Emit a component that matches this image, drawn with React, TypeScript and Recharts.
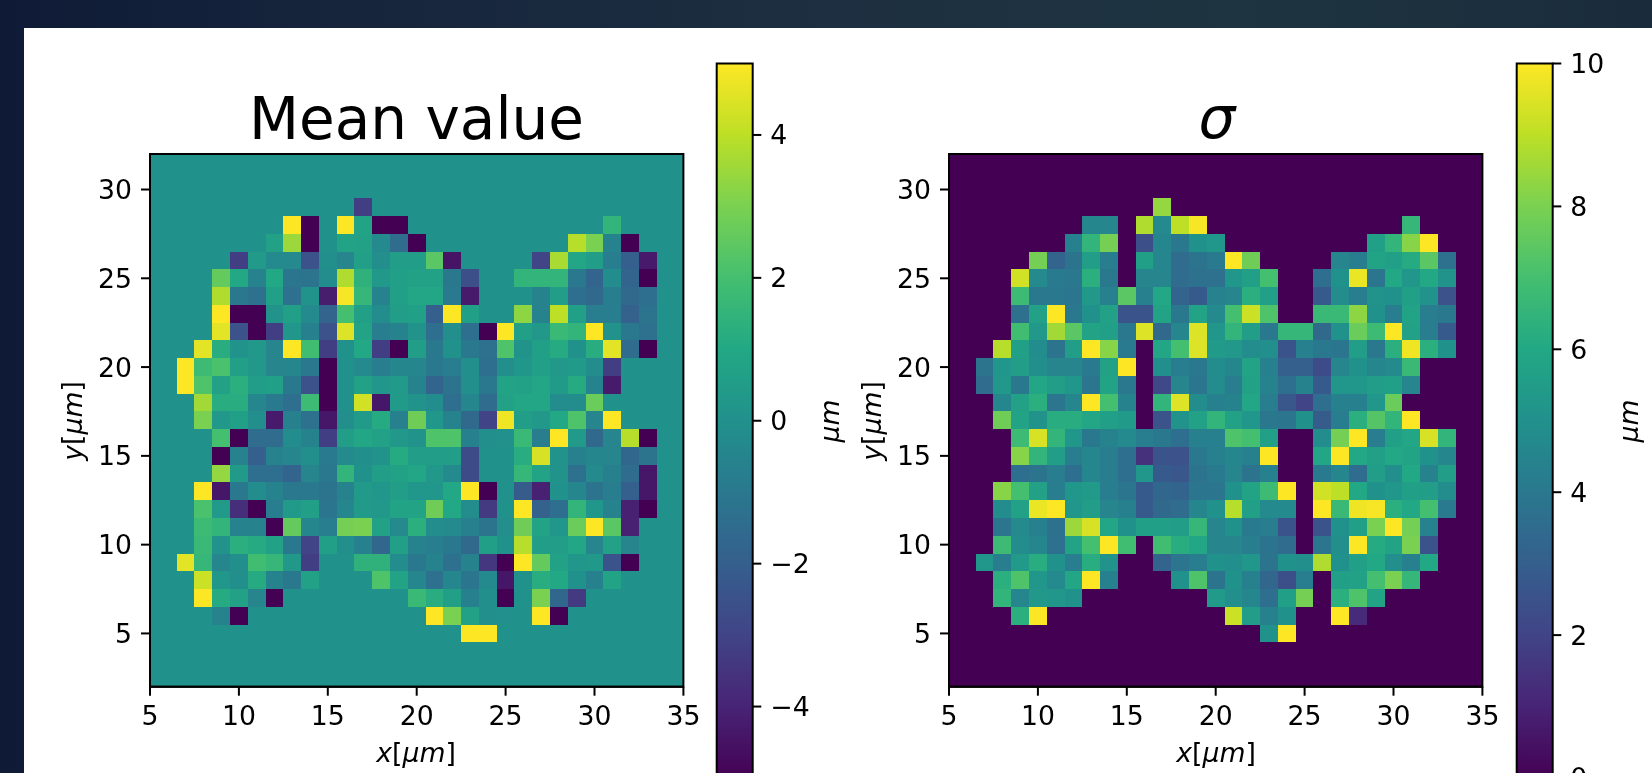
import React from 'react';
import { ScatterChart, Scatter, XAxis, YAxis, CartesianGrid, ReferenceArea, BarChart, Bar } from 'recharts';

type Seg = [number, number, number[]];

const xTicks = [5, 10, 15, 20, 25, 30, 35];
const yTicks = [5, 10, 15, 20, 25, 30];
const meanBarTicks = [-4, -2, 0, 2, 4];
const sigmaBarTicks = [0, 2, 4, 6, 8, 10];
const viridis = ['#440154', '#482475', '#414487', '#355f8d', '#2a788e', '#21918c', '#22a884', '#44bf70', '#7ad151', '#bddf26', '#fde725'];

// each entry: [y, first x, values from that x onward]
const meanRows: Seg[] = [
  [29, 17, [-3.2]],
  [28, 13, [5, -5, 0, 5, 0.8, -5, -5]], [28, 31, [1.5]],
  [27, 12, [0.7, 3.5, -5, 0, 0.8, 0.7, -0.3, -1.5, -5]], [27, 29, [3.9, 3, -0.6, -5]],
  [26, 10, [-3.2, 0.4, -0.3, -0.3, -2.5, -0.1, -0.5, 0.6, -0.1, 0.5, 0.5, 2.4, -4.5]], [26, 27, [-3, 3.7, 0.9, 0.5, -0.8, -2, -4.3]],
  [25, 9, [2.6, 1, -0.6, 1, -1.1, -1.2, -0.2, 3.8, 1.4, 0.3, 0.6, 0.7, 0.7, -1, -2.6]], [25, 26, [1.5, 1.5, 1.5, -1, -1.8, -0.2, -1.8, -5]],
  [24, 9, [3.8, -1, -1.3, 0.6, -1.3, 0.1, -4.2, 4.9, 1.6, -0.6, 0.6, 0.9, 0.9, -0.9, -4.3]], [24, 26, [0, -0.6, 0.5, -1.4, -1.6, -0.8, -1.6, -1.4]],
  [23, 9, [5, -5, -5, 0.1, 0.6, -0.3, -1.8, 2, 0.6, -0.2, 0.5, 0.6, -2, 5, 0.6]], [23, 26, [3.3, -0.6, 4, 0.6, -0.8, -0.8, -1.9, -1.2]],
  [22, 9, [4.6, -2.5, -5, -3.2, 0.2, -0.7, -2.5, 4.5, 0.8, -0.8, -0.6, 0.1, -1.4, -0.1, -1.4, -5, 5, 0.6, 0.3, 1.7, 1.5, 5, 0.1, -1, -1.3]],
  [21, 8, [4.6, 1.2, 0.1, 0.3, -0.5, 5, 1.9, -3.2, 0, 1, -3.2, -5, 0.5, -1, 0, -1, -1.3, 2.2, 0.1, 0.6, 1.1, 0, 1.2, 4.6, -1.5, -5]],
  [20, 7, [5, 1.8, 2.1, 0.6, 0.3, -0.5, -0.4, -1, -5, 0, -0.3, -0.8, -0.4, -0.4, -1, -0.8, -0.1, -1.4, -0.1, 0.2, 0.6, 0.3, 0.4, -0.2, -3.2]],
  [19, 7, [5, 2.2, 0.7, 1.3, 0.5, 0.6, -1, -2.5, -5, 0, 0.7, 0.2, 0.4, -0.6, -1.8, -1.2, -0.1, -1, 0.8, 0.7, 0.9, 0.4, 1.1, -0.6, -4.3]],
  [18, 8, [3.6, 1.2, 1.2, -0.4, -0.9, -1.4, 1.8, -5, 0, 4.3, -4.4, 0.4, 0.1, -0.2, -1.4, -0.4, -1.5, 0.7, 0.9, 0.9, -0.2, -0.2, 2.7]],
  [17, 8, [3, 0.3, 0.6, -0.1, -4.3, -0.7, -1.3, -4.4, -0.1, 0.4, 1.1, -0.7, 2.8, 0.2, -0.6, -1.6, -3, 4.8, 0.5, 0.3, 1, 2.2, -0.5, 5]],
  [16, 9, [2, -5, -1.5, -1.5, -0.2, -0.6, -3.2, 0.5, 0.9, 0.7, 0.3, 0.1, 2.2, 2.2, -0.7, -0.1, 0, 1.7, -0.8, 5, 0.4, -1.6, -0.5, 3.9, -5]],
  [15, 9, [-5, -0.6, -2, -0.6, -0.4, -0.1, -0.9, -0.3, -0.1, 0.1, 1.1, 0.5, 0.5, 0.5, -2.7, 0, 0, 1.2, 4.4, 0.1, -0.7, -0.4, -0.5, -1.7, -1.2]],
  [14, 9, [3.4, 0.4, -1.4, -1.4, -1.8, -0.5, -1, 1.5, 0, 0.5, 0.7, 0.9, 0.3, -0.3, -2.7, 0, 0, 1.6, 0.8, 0.1, -1.3, -0.3, -0.7, -1.5, -4.4]],
  [13, 8, [5, -4.4, -1, -0.2, -0.6, -1, -1, -1.2, -0.6, 0.4, 0.2, 0.5, 0.2, 0.2, 1, 5, -5, 0, -2.1, -4.1, 0, -0.4, -1.2, -0.8, -2, -4.4]],
  [12, 8, [2.1, 0.4, -3.7, -5, -0.8, 0.4, 0.6, -1.1, -0.4, 0.4, 0.3, 0.8, 0.8, 2.8, 1, -0.2, -3.3, 0, 5, -1.9, -1.4, 1.5, 0.2, -0.6, -4.1, -5]],
  [11, 8, [1.8, 1.5, -0.6, -0.6, -5, 2.6, -0.4, -0.8, 2.9, 3, 0.7, -0.3, 1.3, -0.2, -0.3, -0.7, -1.2, -0.1, 2.8, 0.8, 0.2, 2.7, 5, 2.4, -4.1]],
  [10, 8, [1.7, 0.1, 1.3, 1.1, 0.7, -1, -3, 0.6, -0.1, -0.7, -1.7, 0.6, -0.6, -0.8, -1, -1.6, 0.6, 0, 3.9, 0.5, 0.5, 0.9, -0.5, 0.7, -0.5]],
  [9, 7, [4.6, 1.6, -0.4, -0.1, 1.9, 1.6, 0.3, -3.2, 0, 0, 1.4, 1.4, -0.2, -1, -0.6, -1.3, -0.6, -3.4, -5, 5, 2.6, 0.7, 0.2, 0.3, -2.4, -5]],
  [8, 8, [4.2, 0.2, -0.1, 1.1, -0.6, -1, 0.7, 0, 0, 0, 2.2, 0.8, -0.4, -1.3, -0.4, -1.1, -0.3, -4.4, 0, 1.2, 1, 0, -0.7, 0.8]],
  [7, 8, [5, 1.1, 0.7, -0.5, -5]], [7, 20, [1.7, 1.2, 0.6, -0.7, -0.1, -5, 0, 3, -1.7, -3.3]],
  [6, 9, [-0.6, -5]], [6, 21, [5, 3, 0.7, -0.1]], [6, 27, [5, -5]],
  [5, 23, [5, 5]],
];

const sigmaRows: Seg[] = [
  [29, 17, [8.4]],
  [28, 13, [4.6, 4.5]], [28, 16, [8.8, 4.7, 9, 9.9]], [28, 31, [6.6]],
  [27, 12, [4.3, 6.5, 7.9]], [27, 16, [2.4, 4.6, 4, 5, 5.2]], [27, 29, [5.6, 6.5, 8.2, 10]],
  [26, 10, [7.9, 3.2, 3.8, 5.5, 4.2]], [26, 16, [5.6, 4.6, 3.5, 3.8, 4.1, 10, 7.8]], [26, 27, [4.5, 4.2, 5.8, 5.6, 6.1, 7.4, 3.7]],
  [25, 9, [9.3, 4.7, 4.1, 4, 6.3, 4]], [25, 16, [4.5, 4.5, 3.5, 3.7, 3.7, 5.2, 5.6, 7]], [25, 26, [3.6, 5, 9.7, 3.9, 6, 5.2, 6, 5.1]],
  [24, 9, [6.8, 4, 4, 3.9, 5.3, 4.3, 7.4, 4.3, 6, 3.2, 2.8, 4.4, 4.5, 6.3, 5.6]], [24, 26, [2.8, 4.8, 4.2, 5.1, 5, 5.6, 5.1, 2.5]],
  [23, 9, [3.7, 5.7, 10, 4, 5, 5.7, 2.6, 2.6, 5.8, 4, 5.8, 4.7, 7, 9.2, 7.2]], [23, 26, [6.7, 6.7, 8.3, 5, 4.2, 5.8, 4.2, 4]],
  [22, 9, [6.9, 5.3, 8.6, 7.4, 5.8, 5.6, 4, 9.5, 3.4, 4.6, 9.5, 5.2, 6.5, 5.5, 4, 6.6, 6.6, 3.4, 5, 7.7, 6.8, 10, 5.7, 4.2, 2.8]],
  [21, 8, [8.9, 5.6, 4.8, 3.8, 5.5, 10, 8.2, 4.1]], [21, 17, [5.9, 7, 9.5, 5.4, 5.3, 4.8, 4.9, 2.6, 4.3, 4, 3.9, 5.5, 4, 6.3, 9.8, 6.3, 5]],
  [20, 7, [3.8, 5.2, 5.5, 4.9, 4.5, 4.5, 4.1, 5.7, 10]], [20, 17, [4.9, 4.2, 4, 4.8, 4.6, 5.8, 4.3, 3, 3, 2.3, 4.5, 5, 4.6, 4.7, 6.7]],
  [19, 7, [3.5, 5.3, 4, 5.9, 5.5, 5.2, 3.9, 5.8, 4]], [19, 17, [2.2, 4.5, 3.9, 4.8, 4.2, 5.7, 4.4, 3.6, 4.4, 2.8, 5.2, 5.2, 5.5, 5.6, 4.5]],
  [18, 8, [4.6, 5.7, 6.3, 3.9, 4.6, 10, 7, 4.4]], [18, 17, [6.5, 9.5, 4.8, 4.3, 4.4, 5.9, 4.2, 2.7, 2, 3.6, 4.3, 4.3, 5.2, 7.7]],
  [17, 8, [7.8, 5.8, 5.1, 6.2, 6.2, 5.9, 5.6, 5.4]], [17, 17, [2.6, 5.1, 5.7, 6.5, 5.7, 5.2, 4, 3.9, 5, 2.9, 4.2, 6.3, 7.3, 6.5, 10]],
  [16, 9, [6.8, 9.4, 6.5, 5.2, 4, 4.4, 4.7, 4.2, 4, 3.6, 4.3, 4.3, 7.2, 7, 5.6]], [16, 26, [4.8, 7.9, 10, 4.2, 5.6, 5.9, 9.4, 6.5]],
  [15, 9, [8.2, 6.5, 5.5, 4.2, 4.6, 4.2, 3.6, 1.4, 2.6, 2.5, 4, 4.3, 4.6, 4.3, 10]], [15, 26, [5.9, 10, 6, 5.6, 6, 5.8, 5, 4.6]],
  [14, 9, [3.6, 3.8, 4.2, 3.6, 4.6, 4.2, 3.6, 5.2, 2.8, 2.7, 3.8, 4.1, 4.5, 3.8, 4.3]], [14, 26, [4.1, 4.6, 3.5, 5.5, 4.9, 6, 4.4, 5.5]],
  [13, 8, [8.2, 7, 5.7, 4.2, 5.2, 5.4, 4.2, 3.9, 2.8, 3.3, 3.2, 3.9, 3.9, 5, 5.8, 6.8, 10]], [13, 26, [9.3, 9, 6, 5, 5.2, 5.6, 5.5, 4.8]],
  [12, 8, [4.8, 5.7, 9.7, 10, 5.2, 5.5, 4.5, 4.3, 2.8, 3.4, 3.5, 4.6, 5, 8.9, 5.6, 4.7, 4.7]], [12, 26, [10, 6.7, 9.8, 9.9, 6.3, 6, 7, 4.1]],
  [11, 8, [3.9, 4.7, 4.3, 3.7, 8.5, 9.4, 5.9, 5, 5.6, 5.6, 5.5, 6.6, 4.5, 5, 4.1, 4.2, 2.6]], [11, 26, [2.6, 5, 5.6, 8, 10, 7.9, 4.4]],
  [10, 8, [6.8, 4.8, 4.6, 3.7, 5.8, 7, 10, 6.9]], [10, 17, [6.9, 6.2, 5.9, 4.5, 4.5, 4.2, 3.8, 3.5]], [10, 26, [3.9, 4.9, 10, 6.1, 5.8, 8, 2.6]],
  [9, 7, [5.2, 4.2, 5.4, 6.2, 5, 4.2, 6.2, 5.1]], [9, 17, [3.2, 3.9, 4.2, 5, 4.9, 5.2, 3.8, 5, 4.9, 8.8, 5, 5.6, 6, 4.9, 4.3, 6]],
  [8, 8, [6.3, 7.2, 5.2, 4.7, 5.9, 10, 4.3]], [8, 18, [5, 7.2, 3.8, 5, 4.3, 3.3, 2.4, 4.2]], [8, 27, [5.6, 5.7, 7, 8, 6.6]],
  [7, 8, [6.5, 4.6, 5.3, 5.2, 5]], [7, 20, [5.4, 4.9, 4.6, 3.6, 5.6, 7.9]], [7, 27, [6.3, 7.2, 5.8]],
  [6, 9, [6.3, 10]], [6, 21, [9.2, 5.5, 4.3, 5]], [6, 27, [10, 1.2]],
  [5, 23, [5, 10]],
];

const FONT = '"DejaVu Sans", sans-serif';
const TICK = { fontSize: 26.7, fontFamily: FONT, fill: '#000' };
const PLOT = 533.4;
const CELLW = PLOT / 30;
const CELLH = 532.7 / 30;

function lerpHex(a: string, b: string, f: number) {
  const p = (s: string, i: number) => parseInt(s.slice(i, i + 2), 16);
  const ch = [1, 3, 5].map((i) => Math.round(p(a, i) + (p(b, i) - p(a, i)) * f));
  return `rgb(${ch.join(',')})`;
}
function colour(t: number) {
  const c = Math.max(0, Math.min(1, t)) * 10;
  const i = Math.min(9, Math.floor(c));
  return lerpHex(viridis[i], viridis[i + 1], c - i);
}
function flatten(rows: Seg[]) {
  const out: { x: number; y: number; v: number }[] = [];
  rows.forEach(([y, x0, vals]) => vals.forEach((v, i) => out.push({ x: x0 + i, y, v })));
  return out;
}

function Heat({ rows, vmin, vmax, bg, left }: { rows: Seg[]; vmin: number; vmax: number; bg: string; left: number }) {
  const data = flatten(rows);
  const shape = (p: any) => (
    <rect
      x={p.cx - CELLW / 2}
      y={p.cy - CELLH / 2}
      width={CELLW}
      height={CELLH}
      fill={colour((p.payload.v - vmin) / (vmax - vmin))}
      shapeRendering="crispEdges"
    />
  );
  return (
    <div style={{ position: 'absolute', left, top: 0 }}>
      <ScatterChart width={720} height={773} margin={{ left: 0, top: 154, right: 720 - 150 - PLOT, bottom: 6.3 }}>
        <CartesianGrid horizontal={false} vertical={false} fill={bg} fillOpacity={1} stroke="none" />
        <XAxis type="number" dataKey="x" domain={[5, 35]} ticks={xTicks} interval={0} height={80}
          tick={TICK} tickSize={9} tickMargin={10} stroke="#000" strokeWidth={2} axisLine={{ stroke: '#000', strokeWidth: 2 }} />
        <YAxis type="number" dataKey="y" domain={[2, 32]} ticks={yTicks} interval={0} width={150}
          tick={TICK} tickSize={9} tickMargin={9} stroke="#000" strokeWidth={2} axisLine={{ stroke: '#000', strokeWidth: 2 }} />
        <Scatter data={data} shape={shape} isAnimationActive={false} />
        <ReferenceArea x1={5} x2={35} y1={2} y2={32} fill="none" fillOpacity={0} stroke="#000" strokeWidth={2} />
      </ScatterChart>
    </div>
  );
}

function ColourBar({ id, domain, ticks, left, fmt }: { id: string; domain: number[]; ticks: number[]; left: number; fmt: (v: number) => string }) {
  const data = [{ name: 'scale', range: domain }];
  return (
    <div style={{ position: 'absolute', left, top: 40 }}>
      <BarChart width={130} height={760} data={data} barCategoryGap={0} margin={{ left: 16.7, top: 23.5, right: 0, bottom: 22 }}>
        <defs>
          <linearGradient id={id} x1="0" y1="1" x2="0" y2="0">
            {viridis.map((c, i) => <stop key={c} offset={i / 10} stopColor={c} />)}
          </linearGradient>
        </defs>
        <XAxis dataKey="name" hide />
        <YAxis orientation="right" type="number" domain={domain} ticks={ticks} interval={0} width={130 - 16.7 - 35.6}
          tick={TICK} tickSize={9} tickMargin={9} axisLine={false} tickLine={{ stroke: '#000', strokeWidth: 2 }} tickFormatter={fmt} />
        <Bar dataKey="range" fill={`url(#${id})`} stroke="#000" strokeWidth={2} isAnimationActive={false} />
      </BarChart>
    </div>
  );
}

const minus = (v: number) => (v < 0 ? `\u2212${-v}` : `${v}`);
const lab = { fontFamily: FONT, fontSize: 26.7, fill: '#000' };

function AxisLabel({ name, x, y, rot }: { name: string; x: number; y: number; rot?: boolean }) {
  return (
    <text x={x} y={y} textAnchor="middle" dominantBaseline="central" style={lab} transform={rot ? `rotate(-90 ${x} ${y})` : undefined}>
      <tspan fontStyle="italic">{name}</tspan>[<tspan fontStyle="italic">μm</tspan>]
    </text>
  );
}

export default function App() {
  return (
    <div style={{ position: 'absolute', left: 0, top: 0, width: 1652, height: 773, overflow: 'hidden',
      background: 'linear-gradient(90deg,#0f1b36 0%,#16243c 20%,#1d2f40 50%,#1e3440 75%,#1a2c3c 100%)' }}>
      <div style={{ position: 'absolute', left: 24, top: 28, width: 1628, height: 745, background: '#fff' }} />
      <div style={{ position: 'absolute', left: 0, top: 0, width: 1652, height: 773, filter: 'blur(0.5px)' }}>
        <Heat rows={meanRows} vmin={-5} vmax={5} bg="#21918c" left={0} />
        <Heat rows={sigmaRows} vmin={0} vmax={10} bg="#440154" left={799.3} />
        <ColourBar id="cbMean" domain={[-5, 5]} ticks={meanBarTicks} left={700} fmt={minus} />
        <ColourBar id="cbSigma" domain={[0, 10]} ticks={sigmaBarTicks} left={1500} fmt={minus} />
        <svg width={1652} height={773} style={{ position: 'absolute', left: 0, top: 0, pointerEvents: 'none' }}>
          <text x={416.5} y={138.5} textAnchor="middle" style={{ fontFamily: FONT, fontSize: 58, fill: '#000' }}>Mean value</text>
          <text x={1217} y={137.5} textAnchor="middle" style={{ fontFamily: FONT, fontSize: 58, fontStyle: 'italic', fill: '#000' }}>σ</text>
          <AxisLabel name="x" x={416} y={752} />
          <AxisLabel name="y" x={71.5} y={421} rot />
          <AxisLabel name="x" x={1216} y={752} />
          <AxisLabel name="y" x={871} y={421} rot />
          <text x={829} y={421} textAnchor="middle" dominantBaseline="central" fontStyle="italic" style={lab} transform="rotate(-90 829 421)">μm</text>
          <text x={1628} y={421} textAnchor="middle" dominantBaseline="central" fontStyle="italic" style={lab} transform="rotate(-90 1628 421)">μm</text>
        </svg>
      </div>
    </div>
  );
}
